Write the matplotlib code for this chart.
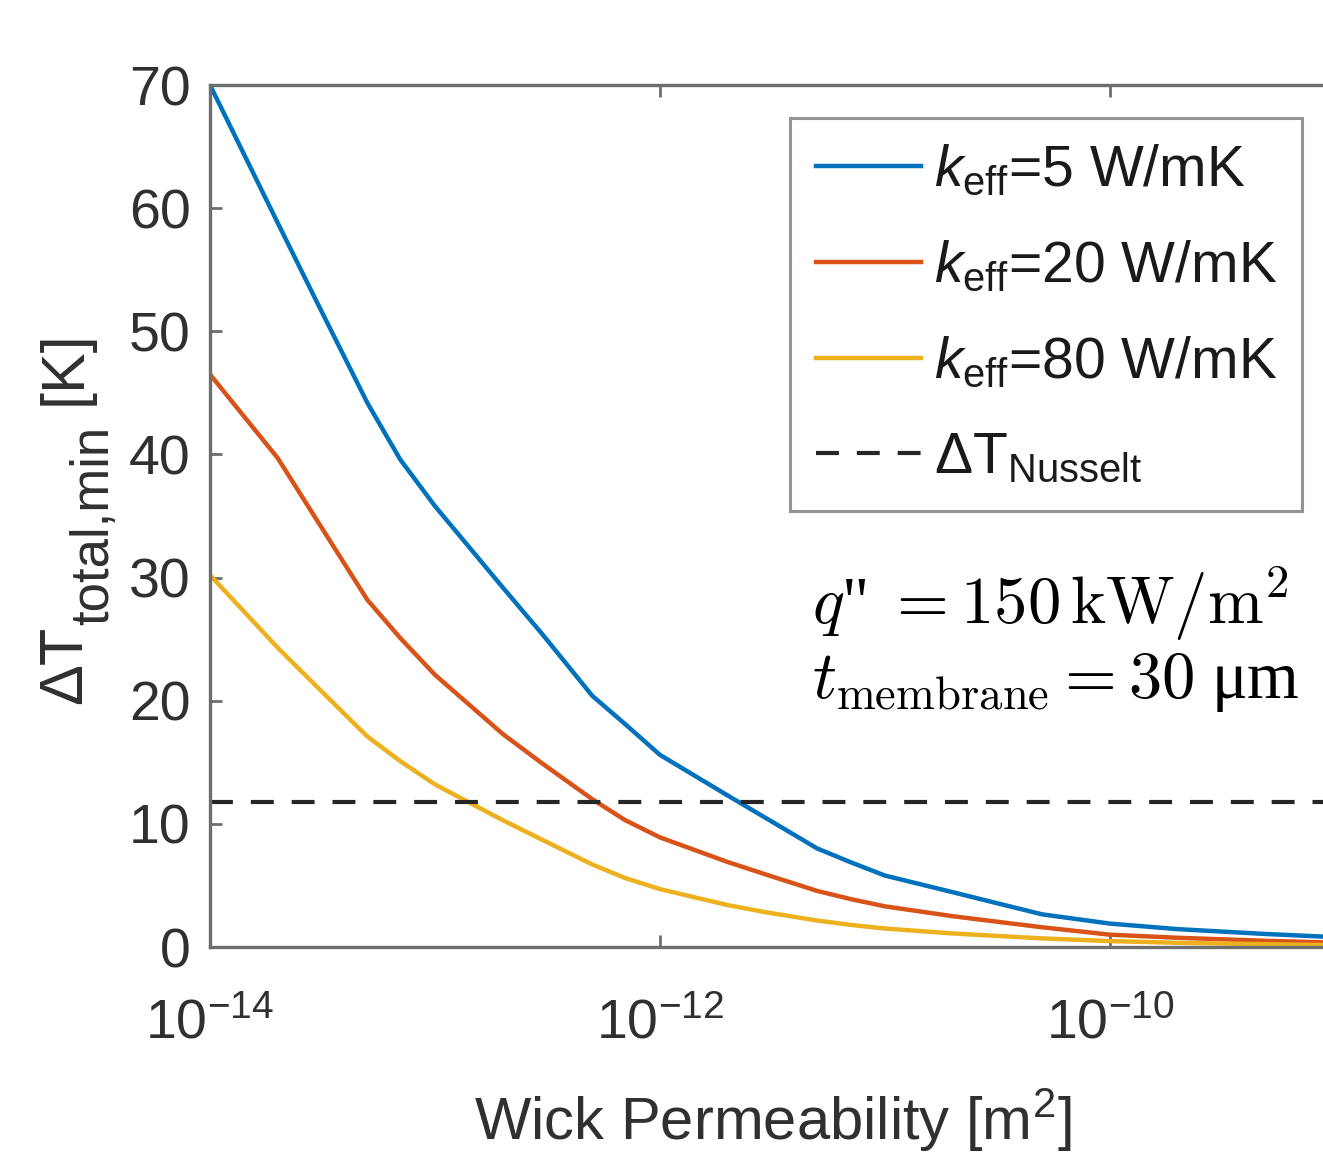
import matplotlib
matplotlib.use("Agg")
import matplotlib.pyplot as plt

# Wick permeability [m^2]
permeability = [1e-14, 2e-14, 3e-14, 5e-14, 7e-14,
                1e-13, 2e-13, 3e-13, 5e-13, 7e-13,
                1e-12, 2e-12, 3e-12, 5e-12, 7e-12,
                1e-11, 2e-11, 3e-11, 5e-11,
                1e-10, 2e-10, 5e-10, 1e-9]

# Minimum total temperature difference [K] for each effective conductivity
dT_k5 = [70.0, 58.8, 52.3, 44.2, 39.6,
         35.8, 29.2, 25.4, 20.4, 18.1,
         15.6, 12.3, 10.4, 8.0, 6.9,
         5.8, 4.45, 3.65, 2.65,
         1.9, 1.45, 1.05, 0.8]
dT_k20 = [46.5, 39.7, 34.6, 28.2, 25.1,
          22.1, 17.3, 14.9, 12.0, 10.3,
          8.9, 6.9, 5.85, 4.55, 3.9,
          3.3, 2.5, 2.1, 1.6,
          1.0, 0.75, 0.5, 0.35]
dT_k80 = [30.2, 24.3, 21.1, 17.1, 15.1,
          13.2, 10.3, 8.7, 6.7, 5.6,
          4.7, 3.4, 2.8, 2.15, 1.8,
          1.5, 1.1, 0.92, 0.7,
          0.48, 0.34, 0.22, 0.15]
dT_nusselt = 11.8

series_labels = [r"$k_{\rm eff}$=5 W/mK",
                 r"$k_{\rm eff}$=20 W/mK",
                 r"$k_{\rm eff}$=80 W/mK"]
nusselt_label = r"ΔT$_{\rm Nusselt}$"
series_colors = ["#0072BD", "#D95319", "#EDB120"]

x_ticks = [1e-14, 1e-12, 1e-10]
x_tick_labels = [r"$\mathregular{10^{-14}}$", r"$\mathregular{10^{-12}}$",
                 r"$\mathregular{10^{-10}}$"]
y_ticks = [0, 10, 20, 30, 40, 50, 60, 70]

plt.rcParams["font.family"] = ["Liberation Sans", "DejaVu Sans"]
plt.rcParams["mathtext.fontset"] = "custom"
plt.rcParams["mathtext.rm"] = "Liberation Sans"
plt.rcParams["mathtext.it"] = "Liberation Sans:italic"
plt.rcParams["mathtext.bf"] = "Liberation Sans:bold"

W, H = 1323, 1154
fig = plt.figure(figsize=(W / 100, H / 100), dpi=100)
ax = fig.add_axes([210 / W, (H - 947) / H, 1125 / W, (947 - 85) / H])

for vals, col, lab in zip([dT_k5, dT_k20, dT_k80], series_colors, series_labels):
    ax.plot(permeability, vals, color=col, lw=3.2, label=lab)
ax.axhline(dT_nusselt, color="#262626", lw=3.0, ls=(0, (5.5, 4.3)), label=nusselt_label)

ax.set_xscale("log")
ax.set_xlim(1e-14, 1e-9)
ax.set_ylim(0, 70)
ax.set_xticks(x_ticks)
ax.set_xticklabels(x_tick_labels)
ax.set_yticks(y_ticks)
ax.minorticks_off()

text_col = "#303030"
spine_col = "#6e6e6e"
for s in ax.spines.values():
    s.set_color(spine_col)
    s.set_linewidth(2.4)
ax.tick_params(axis="both", direction="in", length=8.5, width=2.0, color=spine_col,
               labelcolor=text_col, labelsize=40, top=True, right=True)
ax.tick_params(axis="x", pad=37)
ax.tick_params(axis="y", pad=14)

ax.set_xlabel(r"Wick Permeability [m$^{\rm 2}$]", fontsize=43, color=text_col, labelpad=26)

leg = ax.legend(loc="upper left", bbox_to_anchor=(790 / W, (H - 118) / H),
                bbox_transform=fig.transFigure, fontsize=41, frameon=True,
                fancybox=False, edgecolor="#7a7a7a", borderaxespad=0,
                handlelength=1.85, handletextpad=0.22, labelspacing=0.73,
                borderpad=0.45)
leg.get_frame().set_linewidth(2.2)
for t in leg.get_texts():
    t.set_color("#1a1a1a")

# y-axis label built from pieces so the subscript can be sized independently
renderer = fig.canvas.get_renderer()


def vertical_piece(s, x_px, y_px, size):
    t = fig.text(x_px / W, y_px / H, s, rotation=90, rotation_mode="anchor",
                 ha="left", va="baseline", fontsize=size, color=text_col)
    return t.get_window_extent(renderer).height


base_x = 81
y0 = H - 704
n1 = vertical_piece("ΔT", base_x, y0, 44)
n2 = vertical_piece("total,min", base_x + 27, y0 + n1 + 1, 38)
vertical_piece("[K]", base_x, y0 + n1 + n2 + 22, 44)

# operating conditions
serif = ["Liberation Serif", "DejaVu Serif"]
fig.text(812 / W, (H - 604) / H, r'$q$"$\;=150\,\mathrm{kW/m^2}$', fontsize=48,
         family=serif, math_fontfamily="cm", va="center", ha="left", color="black")
fig.text(812 / W, (H - 682) / H, r"$t_{\mathrm{membrane}} = 30\;$μm",
         fontsize=48, family=serif, math_fontfamily="cm", va="center", ha="left",
         color="black")

fig.savefig("out.png", dpi=100)
